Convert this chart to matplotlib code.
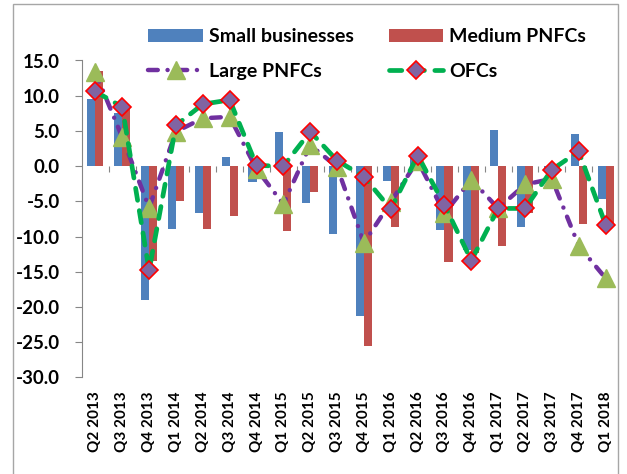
import numpy as np
import matplotlib
matplotlib.use('agg')
import matplotlib.pyplot as plt
from matplotlib.patches import Rectangle
from matplotlib.ticker import FixedLocator, FormatStrFormatter, NullFormatter

quarters = ['Q2 2013', 'Q3 2013', 'Q4 2013', 'Q1 2014', 'Q2 2014', 'Q3 2014',
            'Q4 2014', 'Q1 2015', 'Q2 2015', 'Q3 2015', 'Q4 2015', 'Q1 2016',
            'Q2 2016', 'Q3 2016', 'Q4 2016', 'Q1 2017', 'Q2 2017', 'Q3 2017',
            'Q4 2017', 'Q1 2018']

small = [9.5, 7.6, -19.0, -8.9, -6.6, 1.3, -2.3, 4.9, -5.2, -9.7,
         -21.3, -2.1, 1.4, -9.0, -11.9, 5.2, -8.6, -0.2, 4.5, -4.6]
medium = [13.5, 8.3, -13.5, -5.0, -8.9, -7.1, 0.0, -9.2, -3.7, 0.0,
          -25.5, -8.7, -0.4, -13.6, -12.3, -11.3, -6.6, -0.2, -8.2, -8.2]
large = [13.3, 4.1, -5.9, 4.9, 6.8, 7.0, -0.4, -5.4, 3.0, -0.1,
         -10.9, -5.1, 0.8, -6.7, -1.9, -6.0, -2.6, -1.8, -11.3, -15.9]
ofcs = [10.6, 8.4, -14.8, 5.8, 8.8, 9.4, 0.1, 0.0, 4.9, 0.8,
        -1.5, -6.1, 1.5, -5.5, -13.4, -6.0, -6.0, -0.5, 2.1, -8.3]

yticks = [15, 10, 5, 0, -5, -10, -15, -20, -25, -30]

plt.rcParams['font.family'] = ['Lato', 'DejaVu Sans']
plt.rcParams['font.weight'] = 'bold'
plt.rcParams['axes.unicode_minus'] = False

grey = '#868686'

fig = plt.figure(figsize=(6.27, 4.74), dpi=100)
ax = fig.add_axes([82 / 627, 96.5 / 474, 537 / 627, 317 / 474])

# chart area border
fig.patches.append(Rectangle((13 / 627, -0.1), 605 / 627, 1.1 - 4 / 474,
                             transform=fig.transFigure, fill=False,
                             edgecolor='#a6a6a6', linewidth=1.0))

x = np.arange(len(quarters))
w = 0.3
ax.bar(x - w / 2, small, w, color='#4f81bd', label='Small businesses', zorder=2)
ax.bar(x + w / 2, medium, w, color='#c0504d', label='Medium PNFCs', zorder=2)

ax.plot(x, large, color='#7030a0', linewidth=3.2,
        dashes=(2.2, 2.2, 0.01, 2.2), dash_capstyle='round',
        marker='^', markersize=13, markerfacecolor='#9bbb59',
        markeredgecolor='#9bbb59', label='Large PNFCs', zorder=3,
        clip_on=False)
ax.plot(x, ofcs, color='#00b050', linewidth=3.4,
        dashes=(2.6, 2.2), dash_capstyle='round',
        marker='D', markersize=9, markerfacecolor='#8064a2',
        markeredgecolor='#ff0000', markeredgewidth=1.2,
        label='OFCs', zorder=4, clip_on=False)

ax.set_xlim(-0.5, len(quarters) - 0.5)
ax.set_ylim(-30, 15)

ax.set_yticks(yticks)
ax.yaxis.set_major_formatter(FormatStrFormatter('%.1f'))
ax.tick_params(axis='y', direction='out', length=5, color=grey, pad=11,
               labelsize=13.5)
ax.set_xticks(x)
ax.set_xticklabels(quarters, rotation=90, fontsize=11, fontweight='bold')
ax.tick_params(axis='x', length=0, pad=10)

for s in ['top', 'right', 'bottom']:
    ax.spines[s].set_visible(False)
ax.spines['left'].set_color(grey)

# horizontal axis line at zero with category tick marks
sec = ax.secondary_xaxis(30 / 45)
sec.spines['bottom'].set_color(grey)
sec.spines['top'].set_visible(False)
sec.xaxis.set_ticks_position('bottom')
sec.xaxis.set_major_locator(FixedLocator(x[1:] - 0.5))
sec.xaxis.set_major_formatter(NullFormatter())
sec.tick_params(axis='x', direction='out', length=4, color=grey,
                labelbottom=False, labeltop=False)

h, lab = ax.get_legend_handles_labels()
order = [2, 0, 3, 1]
leg = fig.legend([h[i] for i in order], [lab[i] for i in order], ncol=2,
                 loc='center', bbox_to_anchor=(367 / 627, 1 - 54 / 474),
                 frameon=False, fontsize=14, handlelength=2.8,
                 handleheight=0.7, handletextpad=0.3, columnspacing=1.8,
                 labelspacing=0.9, borderpad=0)

fig.savefig('out.png', dpi=100)
